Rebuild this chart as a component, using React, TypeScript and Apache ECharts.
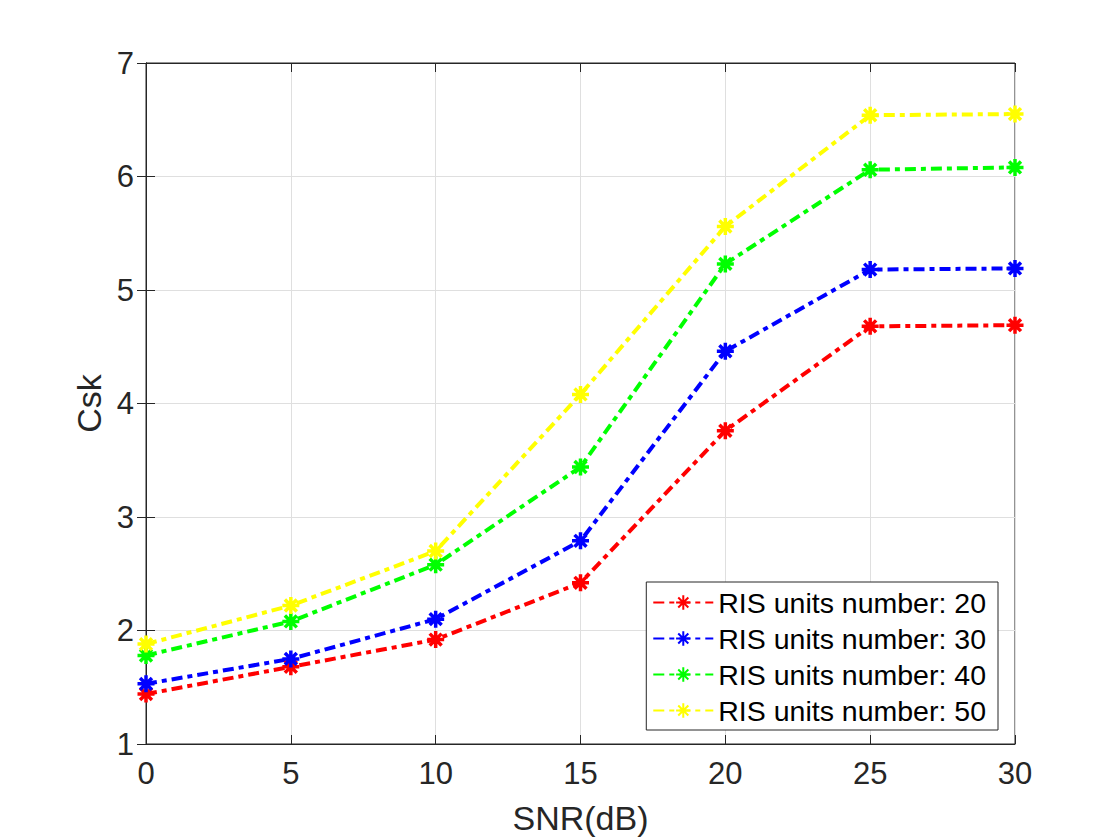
import React, { useEffect, useRef } from "react";
import * as echarts from "echarts";

const snr = [0, 5, 10, 15, 20, 25, 30];
const ris20 = [1.44, 1.68, 1.92, 2.42, 3.76, 4.68, 4.69];
const ris30 = [1.53, 1.75, 2.1, 2.79, 4.46, 5.18, 5.19];
const ris40 = [1.78, 2.08, 2.58, 3.44, 5.23, 6.06, 6.08];
const ris50 = [1.88, 2.22, 2.7, 4.08, 5.56, 6.54, 6.55];
const seriesNames = [
  "RIS units number: 20",
  "RIS units number: 30",
  "RIS units number: 40",
  "RIS units number: 50",
];
const seriesColors = ["#ff0000", "#0000ff", "#00ff00", "#ffff00"];

const STAR = "path://M0,-10L0,10M-10,0L10,0M-7,-7L7,7M-7,7L7,-7";

export default function App() {
  const ref = useRef<HTMLDivElement>(null);
  useEffect(() => {
    const chart = echarts.init(ref.current!, undefined, { renderer: "svg" });
    const all = [ris20, ris30, ris40, ris50];
    const font = "Liberation Sans, Helvetica, Arial, sans-serif";
    const axisColor = "#262626";
    chart.setOption({
      animation: false,
      backgroundColor: "#ffffff",
      textStyle: { fontFamily: font },
      grid: {
        left: 146,
        right: 105,
        top: 63,
        bottom: 93,
        show: true,
        borderColor: axisColor,
        borderWidth: 1,
        backgroundColor: "transparent",
      },
      legend: {
        right: 122,
        top: 582,
        orient: "vertical",
        backgroundColor: "#ffffff",
        borderColor: axisColor,
        borderWidth: 1,
        borderRadius: 0,
        padding: [6, 12, 5, 6],
        itemWidth: 60,
        itemHeight: 18,
        itemGap: 7,
        textStyle: { fontSize: 28.5, color: "#000", fontFamily: font },
        data: seriesNames,
      },
      xAxis: [
        {
          type: "value",
          min: 0,
          max: 30,
          interval: 5,
          name: "SNR(dB)",
          nameLocation: "middle",
          nameGap: 57,
          nameTextStyle: { fontSize: 34, color: axisColor, fontFamily: font },
          axisLine: { lineStyle: { color: axisColor } },
          axisTick: { inside: true, length: 9, lineStyle: { color: axisColor } },
          axisLabel: { fontSize: 31, color: axisColor, margin: 14, fontFamily: font },
          splitLine: { show: true, lineStyle: { color: "#dfdfdf" } },
        },
        {
          type: "value",
          position: "top",
          min: 0,
          max: 30,
          interval: 5,
          axisLine: { show: true, lineStyle: { color: axisColor } },
          axisTick: { inside: true, length: 9, lineStyle: { color: axisColor } },
          axisLabel: { show: false },
          splitLine: { show: false },
        },
      ],
      yAxis: [
        {
          type: "value",
          min: 1,
          max: 7,
          interval: 1,
          name: "Csk",
          nameLocation: "middle",
          nameGap: 37,
          nameTextStyle: { fontSize: 34, color: axisColor, fontFamily: font },
          axisLine: { show: true, lineStyle: { color: axisColor } },
          axisTick: { show: true, inside: true, length: 9, lineStyle: { color: axisColor } },
          axisLabel: { fontSize: 31, color: axisColor, margin: 12, fontFamily: font },
          splitLine: { show: true, lineStyle: { color: "#dfdfdf" } },
        },
        {
          type: "value",
          position: "right",
          min: 1,
          max: 7,
          interval: 1,
          axisLine: { show: true, lineStyle: { color: axisColor } },
          axisTick: { show: true, inside: true, length: 9, lineStyle: { color: axisColor } },
          axisLabel: { show: false },
          splitLine: { show: false },
        },
      ],
      series: all.map((vals, i) => ({
        name: seriesNames[i],
        type: "line",
        xAxisIndex: 0,
        yAxisIndex: 0,
        data: snr.map((x, j) => [x, vals[j]]),
        symbol: STAR,
        symbolSize: 17,
        showAllSymbol: true,
        itemStyle: {
          color: seriesColors[i],
          borderColor: seriesColors[i],
          borderWidth: 3.5,
        },
        lineStyle: {
          color: seriesColors[i],
          width: 4,
          type: [11, 5, 5, 5],
        },
      })),
    });
    return () => chart.dispose();
  }, []);
  return (
    <div
      ref={ref}
      style={{ position: "fixed", left: 0, top: 0, width: 1120, height: 840 }}
    />
  );
}
